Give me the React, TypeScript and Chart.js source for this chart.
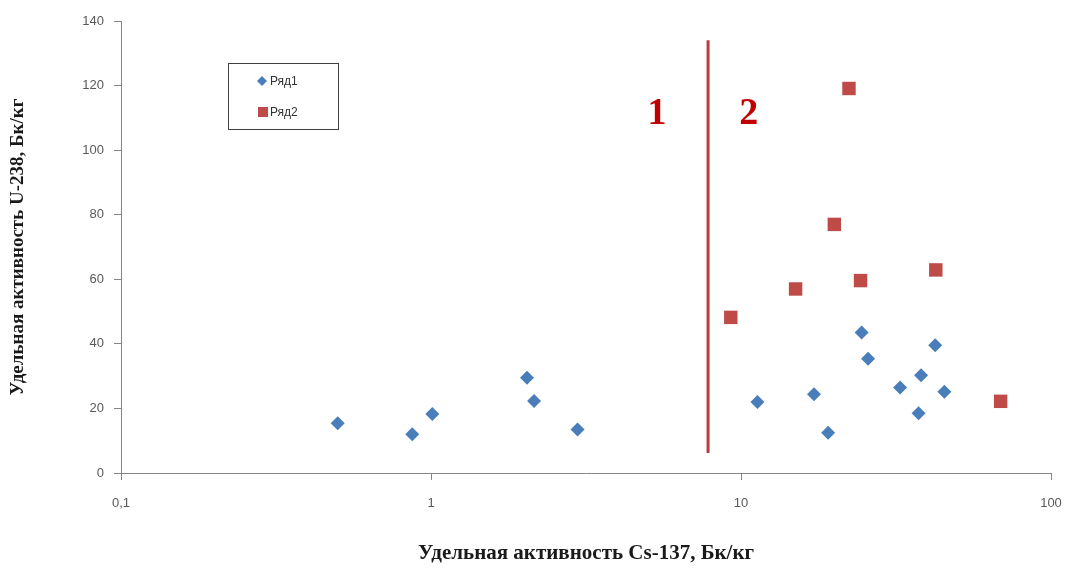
import React, { useEffect, useRef } from "react";
import { Chart, registerables } from "chart.js";

Chart.register(...registerables);

// Ряд1 (blue diamonds)
const series1X = [0.5, 0.87, 1.01, 2.04, 2.15, 2.97, 11.3, 17.2, 19.1, 24.5, 25.7, 32.6, 38.1, 37.4, 42.3, 45.3];
const series1Y = [15.4, 12.0, 18.3, 29.5, 22.3, 13.5, 22.0, 24.4, 12.5, 43.5, 35.4, 26.5, 30.3, 18.5, 39.6, 25.2];
// Ряд2 (red squares)
const series2X = [9.27, 15.0, 20.0, 22.3, 24.3, 42.5, 68.8];
const series2Y = [48.2, 57.0, 77.0, 119.1, 59.6, 62.9, 22.2];
// Dividing line between zones 1 and 2
const dividerX = [7.83, 7.83];
const dividerY = [134, 6.2];
const zoneLabels = ["1", "2"];
const zoneLabelX = [5.36, 10.6];
const zoneLabelY = [111, 111];
const seriesNames = ["Ряд1", "Ряд2"];
const xTicks = [0.1, 1, 10, 100];
const xTickLabels = ["0,1", "1", "10", "100"];
const yTitle = "Удельная активность U-238, Бк/кг";
const xTitle = "Удельная активность Cs-137, Бк/кг";

const BLUE = "#4a7ebb";
const RED = "#be4b48";

const annotationPlugin = {
  id: "annotations",
  afterDatasetsDraw(chart: any) {
    const { ctx, scales } = chart;
    ctx.save();
    // zone labels
    ctx.fillStyle = "#c00000";
    ctx.font = "bold 38px 'Liberation Serif', 'DejaVu Serif', serif";
    ctx.textAlign = "center";
    ctx.textBaseline = "middle";
    zoneLabels.forEach((t, i) => {
      ctx.fillText(t, scales.x.getPixelForValue(zoneLabelX[i]), scales.y.getPixelForValue(zoneLabelY[i]));
    });
    // legend box
    const bx = 228, by = 63, bw = 110, bh = 66;
    ctx.fillStyle = "#ffffff";
    ctx.fillRect(bx, by, bw, bh);
    ctx.strokeStyle = "#404040";
    ctx.lineWidth = 1;
    ctx.strokeRect(bx + 0.5, by + 0.5, bw, bh);
    ctx.font = "12px 'Liberation Sans', Arial, sans-serif";
    ctx.textAlign = "left";
    // diamond
    const dx = 262, dy = 81;
    ctx.fillStyle = BLUE;
    ctx.beginPath();
    ctx.moveTo(dx, dy - 5);
    ctx.lineTo(dx + 5, dy);
    ctx.lineTo(dx, dy + 5);
    ctx.lineTo(dx - 5, dy);
    ctx.closePath();
    ctx.fill();
    ctx.fillStyle = "#333333";
    ctx.fillText(seriesNames[0], 270, 82);
    // square
    ctx.fillStyle = RED;
    ctx.fillRect(258, 107, 10, 10);
    ctx.fillStyle = "#333333";
    ctx.fillText(seriesNames[1], 270, 113);
    ctx.restore();
  },
};

export default function App() {
  const canvasRef = useRef<HTMLCanvasElement | null>(null);

  useEffect(() => {
    document.body.style.margin = "0";
    const canvas = canvasRef.current;
    if (!canvas) return;
    const chart = new Chart(canvas, {
      type: "scatter",
      data: {
        datasets: [
          {
            label: seriesNames[0],
            data: series1X.map((x, i) => ({ x, y: series1Y[i] })),
            pointStyle: "rectRot",
            pointRadius: 7,
            pointHoverRadius: 7,
            backgroundColor: BLUE,
            borderColor: BLUE,
            borderWidth: 0,
          },
          {
            label: seriesNames[1],
            data: series2X.map((x, i) => ({ x, y: series2Y[i] })),
            pointStyle: "rect",
            pointRadius: 9.5,
            pointHoverRadius: 9.5,
            backgroundColor: RED,
            borderColor: RED,
            borderWidth: 0,
          },
          {
            label: "divider",
            data: dividerX.map((x, i) => ({ x, y: dividerY[i] })),
            showLine: true,
            pointRadius: 0,
            borderColor: "#c0393b",
            borderWidth: 3,
          } as any,
        ],
      },
      options: {
        animation: false,
        responsive: true,
        maintainAspectRatio: false,
        layout: { padding: { top: 21, right: 17, left: 0, bottom: 0 } },
        plugins: {
          legend: { display: false },
          tooltip: { enabled: false },
        },
        scales: {
          x: {
            type: "logarithmic",
            min: 0.1,
            max: 100,
            afterBuildTicks: (scale: any) => {
              scale.ticks = xTicks.map((v) => ({ value: v }));
            },
            afterFit: (scale: any) => {
              scale.height = 95;
              scale.paddingLeft = 0;
              scale.paddingRight = 0;
            },
            ticks: {
              autoSkip: false,
              maxRotation: 0,
              padding: 16,
              color: "#595959",
              font: { family: "'Liberation Sans', Arial, sans-serif", size: 13 },
              callback: (v: any) => {
                const i = xTicks.indexOf(Number(v));
                return i >= 0 ? xTickLabels[i] : "";
              },
            },
            grid: {
              drawOnChartArea: false,
              drawTicks: true,
              tickLength: 7,
              color: "#868686",
            },
            border: { display: true, color: "#868686", width: 1 },
            title: {
              display: true,
              text: xTitle,
              color: "#1a1a1a",
              font: { family: "'Liberation Serif', 'DejaVu Serif', serif", size: 21, weight: "bold" },
              padding: { top: 0, bottom: 2 },
            },
          },
          y: {
            type: "linear",
            min: 0,
            max: 140,
            afterFit: (scale: any) => {
              scale.width = 121;
            },
            ticks: {
              stepSize: 20,
              padding: 10,
              color: "#595959",
              font: { family: "'Liberation Sans', Arial, sans-serif", size: 13 },
            },
            grid: {
              drawOnChartArea: false,
              drawTicks: true,
              tickLength: 7,
              color: "#868686",
            },
            border: { display: true, color: "#868686", width: 1 },
            title: {
              display: true,
              text: yTitle,
              color: "#1a1a1a",
              font: { family: "'Liberation Serif', 'DejaVu Serif', serif", size: 19, weight: "bold" },
              padding: { top: 7, bottom: 0 },
            },
          },
        },
      },
      plugins: [annotationPlugin],
    });
    return () => chart.destroy();
  }, []);

  return (
    <div style={{ width: 1068, height: 568, position: "relative", background: "#ffffff" }}>
      <canvas ref={canvasRef} />
    </div>
  );
}
